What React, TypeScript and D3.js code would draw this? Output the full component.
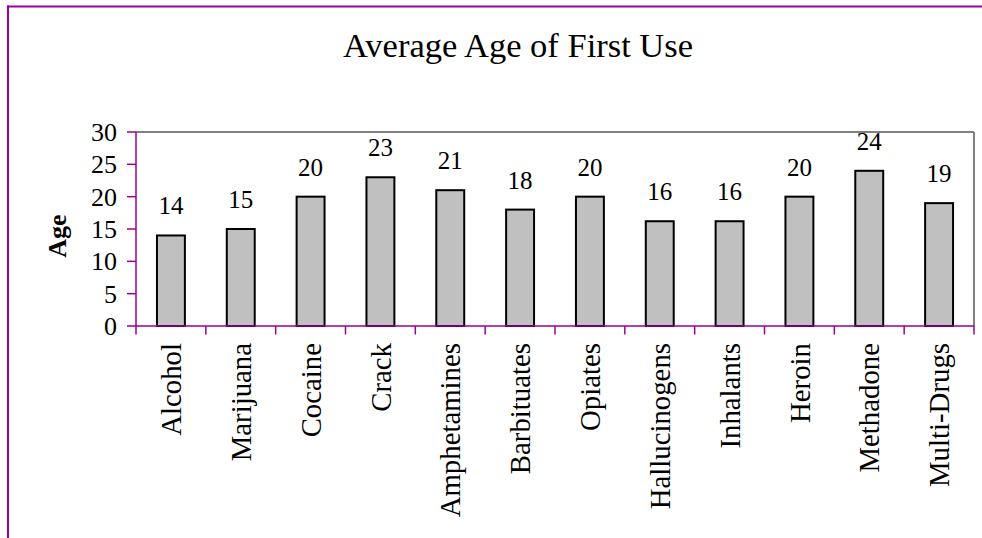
import React from "react";
import * as d3 from "d3";

const categories = ["Alcohol","Marijuana","Cocaine","Crack","Amphetamines","Barbituates","Opiates","Hallucinogens","Inhalants","Heroin","Methadone","Multi-Drugs"];
const values = [14, 15, 20, 23, 21, 18, 20, 16.2, 16.2, 20, 24, 19];
const yTicks = [0, 5, 10, 15, 20, 25, 30];
const title = "Average Age of First Use";
const yLabel = "Age";

const W = 982, H = 538;
const left = 136, right = 974, top = 132, bottom = 326;
const purple = "#990099";
const font = "'Liberation Serif', 'Times New Roman', serif";

export default function App() {
  const x = d3.scaleBand<string>().domain(categories).range([left, right]).paddingInner(0.6).paddingOuter(0.3);
  const xb = d3.scaleBand<string>().domain(categories).range([left, right]);
  const y = d3.scaleLinear().domain([0, 30]).range([bottom, top]);
  const fmt = d3.format(".0f");
  const bounds = d3.range(categories.length + 1).map(i => left + i * xb.step());
  return (
    <svg width={W} height={H} style={{ position: "absolute", left: 0, top: 0, background: "#fff" }} fontFamily={font}>
      <rect x={0} y={0} width={W} height={H} fill="#fff" />
      <line x1={7} x2={W} y1={6.5} y2={6.5} stroke={purple} strokeWidth={2} />
      <line x1={8} x2={8} y1={5.5} y2={H} stroke={purple} strokeWidth={2} />
      <text x={518} y={57} textAnchor="middle" fontSize={34.5} fill="#000">{title}</text>
      {/* plot border top/right */}
      <line x1={left} x2={right} y1={top} y2={top} stroke="#808080" strokeWidth={2} />
      <line x1={right} x2={right} y1={top} y2={bottom} stroke="#808080" strokeWidth={2} />
      {/* bars */}
      {categories.map((c, i) => (
        <rect key={c} x={x(c)} y={y(values[i])} width={x.bandwidth()} height={bottom - y(values[i])}
          fill="#c0c0c0" stroke="#000" strokeWidth={2} />
      ))}
      {categories.map((c, i) => (
        <text key={"v" + c} x={(x(c) as number) + x.bandwidth() / 2} y={y(values[i]) - 21}
          textAnchor="middle" fontSize={25} fill="#000">{fmt(values[i])}</text>
      ))}
      {/* y axis */}
      <line x1={left} x2={left} y1={top} y2={bottom} stroke={purple} strokeWidth={1.5} />
      {yTicks.map(t => (
        <g key={t}>
          <line x1={127} x2={left} y1={y(t)} y2={y(t)} stroke={purple} strokeWidth={1.5} />
          <text x={117} y={y(t)} dy="0.35em" textAnchor="end" fontSize={26} fill="#000">{t}</text>
        </g>
      ))}
      {/* x axis */}
      <line x1={left} x2={right} y1={bottom} y2={bottom} stroke={purple} strokeWidth={1.5} />
      {bounds.map((b, i) => (
        <line key={i} x1={b} x2={b} y1={bottom} y2={bottom + 8.5} stroke={purple} strokeWidth={1.5} />
      ))}
      {categories.map(c => {
        const cx = (xb(c) as number) + xb.bandwidth() / 2;
        return (
          <text key={"c" + c} transform={`translate(${cx},343) rotate(-90)`} dy="0.35em"
            textAnchor="end" fontSize={28.8} fill="#000">{c}</text>
        );
      })}
      <text transform="translate(66,236) rotate(-90)" textAnchor="middle" fontSize={26} fontWeight="bold" fill="#000">{yLabel}</text>
    </svg>
  );
}
